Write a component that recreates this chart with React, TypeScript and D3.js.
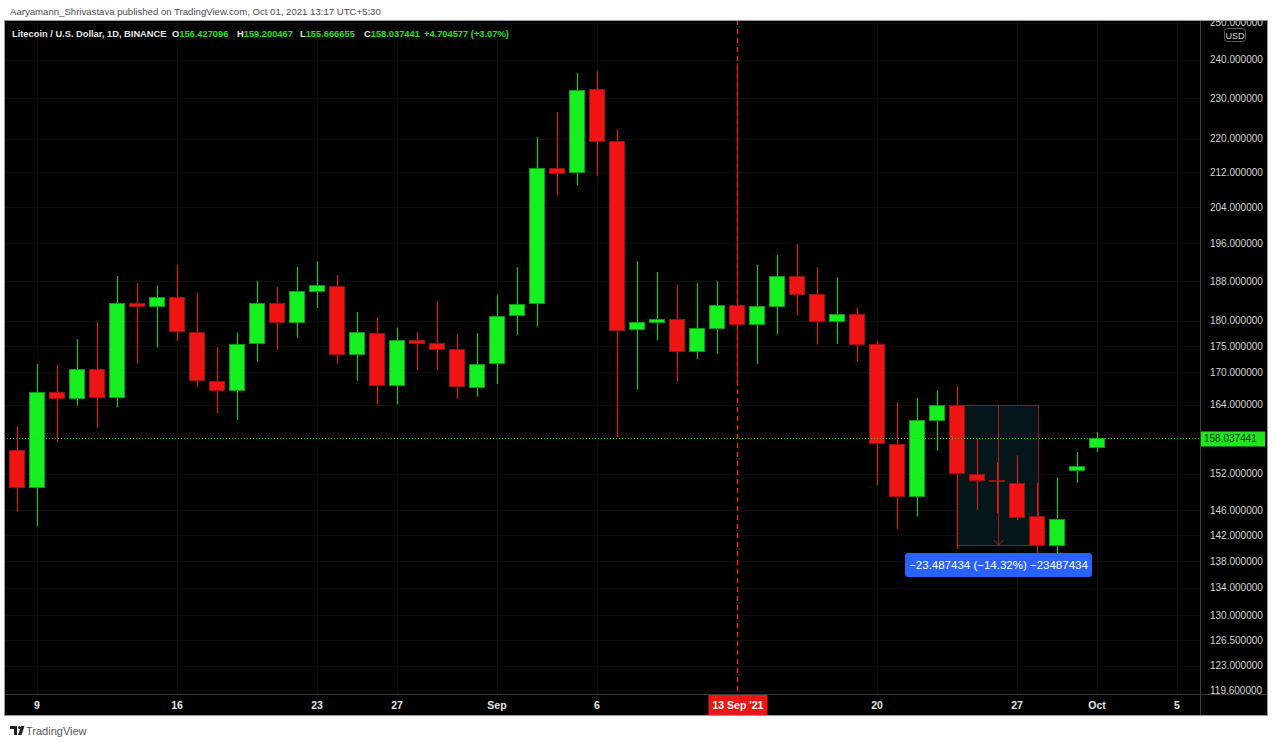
import React from "react";
import * as d3 from "d3";

// daily candles, LTC/USD (Binance)
const dates = [
  "2021-08-08", "2021-08-09", "2021-08-10", "2021-08-11", "2021-08-12", "2021-08-13", "2021-08-14",
  "2021-08-15", "2021-08-16", "2021-08-17", "2021-08-18", "2021-08-19", "2021-08-20", "2021-08-21",
  "2021-08-22", "2021-08-23", "2021-08-24", "2021-08-25", "2021-08-26", "2021-08-27", "2021-08-28",
  "2021-08-29", "2021-08-30", "2021-08-31", "2021-09-01", "2021-09-02", "2021-09-03", "2021-09-04",
  "2021-09-05", "2021-09-06", "2021-09-07", "2021-09-08", "2021-09-09", "2021-09-10", "2021-09-11",
  "2021-09-12", "2021-09-13", "2021-09-14", "2021-09-15", "2021-09-16", "2021-09-17", "2021-09-18",
  "2021-09-19", "2021-09-20", "2021-09-21", "2021-09-22", "2021-09-23", "2021-09-24", "2021-09-25",
  "2021-09-26", "2021-09-27", "2021-09-28", "2021-09-29", "2021-09-30", "2021-10-01",
];
const opens = [
  156.0, 149.6, 166.3, 165.1, 170.6, 165.3, 183.5, 182.8, 184.7, 177.8, 168.4, 166.5, 175.4, 183.5,
  179.6, 185.8, 186.9, 173.3, 177.6, 167.5, 176.2, 175.6, 174.4, 167.1, 171.5, 180.9, 183.3, 213.0,
  211.9, 232.3, 219.4, 178.2, 179.6, 180.3, 173.9, 178.4, 183.1, 179.1, 182.7, 189.1, 185.3, 179.7,
  181.3, 175.4, 157.1, 148.2, 161.2, 163.9, 152.0, 150.9, 150.5, 145.1, 140.3, 152.5, 156.427096,
];
const highs = [
  160.2, 171.6, 171.4, 176.3, 179.8, 189.1, 187.6, 187.1, 191.4, 185.6, 174.8, 177.6, 188.1, 186.8,
  191.0, 192.2, 189.3, 181.7, 180.6, 178.6, 177.7, 183.9, 177.3, 177.5, 185.1, 190.9, 220.4, 226.6,
  236.5, 237.1, 222.3, 192.2, 189.9, 187.2, 187.6, 188.0, 239.2, 191.4, 193.5, 195.9, 190.9, 188.8,
  182.6, 176.1, 164.5, 165.3, 166.6, 167.4, 157.9, 154.0, 155.1, 150.5, 151.4, 155.7, 159.200467,
];
const lows = [
  145.8, 143.5, 157.4, 163.9, 159.9, 163.6, 171.7, 174.7, 176.0, 167.3, 162.5, 161.3, 172.0, 174.3,
  176.6, 182.5, 171.6, 168.4, 164.1, 164.1, 170.5, 170.5, 165.1, 165.5, 167.8, 177.2, 178.8, 206.6,
  209.0, 211.1, 158.3, 166.8, 176.1, 168.3, 172.5, 173.5, 167.4, 171.6, 177.3, 181.1, 175.3, 175.4,
  172.0, 150.1, 143.0, 145.0, 155.9, 139.9, 146.05, 145.5, 144.4, 139.3, 139.0, 150.5, 155.666655,
];
const closes = [
  149.6, 166.3, 165.1, 170.6, 165.3, 183.5, 182.8, 184.7, 177.8, 168.3, 166.5, 175.4, 183.5, 179.6,
  185.9, 187.1, 173.3, 177.8, 167.5, 176.2, 175.4, 174.3, 167.2, 171.5, 180.9, 183.3, 213.0, 211.7,
  232.1, 219.3, 178.0, 179.7, 180.3, 173.9, 178.5, 183.1, 179.1, 182.9, 189.0, 185.1, 179.7, 181.3,
  175.3, 157.0, 148.2, 161.3, 163.9, 152.0, 150.8, 150.7, 144.8, 140.3, 144.6, 153.33, 158.037441,
];

const priceTicks = [250, 240, 230, 220, 212, 204, 196, 188, 180, 175, 170, 164, 152, 146, 142, 138, 134, 130, 126.5, 123, 119.6];
const timeTickDates = ["2021-08-09", "2021-08-16", "2021-08-23", "2021-08-27", "2021-09-01", "2021-09-06", "2021-09-20", "2021-09-27", "2021-10-01", "2021-10-05"];
const timeTickLabels = ["9", "16", "23", "27", "Sep", "6", "20", "27", "Oct", "5"];

const lastPrice = 158.037441;
const crosshairDate = "2021-09-13";
const crosshairLabel = "13 Sep '21";
const measureFrom = { date: "2021-09-24", price: 164.024875 };
const measureTo = { date: "2021-09-28", price: 140.537441 };
const measureText = "\u221223.487434 (\u221214.32%) \u221223487434";

const W = 1277;
const H = 742;
const panelL = 4, panelT = 20, panelR = 1268, panelB = 716;
const plotR = 1200, plotB = 694;

const UP = "#17f020";
const UP_EDGE = "#0f9a16";
const DOWN = "#ef1515";
const DOWN_EDGE = "#9c1010";

const parse = d3.utcParse("%Y-%m-%d");
const fmt = d3.format(".6f");
const font = "'Liberation Sans', Arial, sans-serif";

export default function App() {
  const x = d3.scaleUtc()
    .domain([parse("2021-08-09")!, parse("2021-10-05")!])
    .range([37, 1177]);
  const y = d3.scaleLog().domain([119.2, 250.8]).range([plotB, panelT]);

  const candles = dates.map((d, i) => ({
    cx: Math.round(x(parse(d)!)),
    o: opens[i], h: highs[i], l: lows[i], c: closes[i],
  }));

  const crossX = Math.round(x(parse(crosshairDate)!)) + 0.5;
  const mx0 = Math.round(x(parse(measureFrom.date)!));
  const mx1 = Math.round(x(parse(measureTo.date)!)) + 1;
  const my0 = Math.round(y(measureFrom.price));
  const my1 = Math.round(y(measureTo.price));
  const mMid = Math.round((mx0 + mx1) / 2) + 0.5;
  const lastY = Math.round(y(lastPrice)) + 0.5;
  const last = opens.length - 1;

  return (
    <div style={{ position: "fixed", left: 0, top: 0, width: W, height: H, background: "#fff" }}>
      <svg width={W} height={H} style={{ display: "block" }} fontFamily={font}>
        <defs>
          <clipPath id="plot"><rect x={panelL} y={panelT} width={plotR - panelL} height={plotB - panelT} /></clipPath>
          <clipPath id="paxis"><rect x={plotR} y={panelT} width={panelR - plotR} height={plotB - panelT} /></clipPath>
        </defs>

        <text x={10} y={14.5} fontSize={9.6} fill="#4c4c4c">
          Aaryamann_Shrivastava published on TradingView.com, Oct 01, 2021 13:17 UTC+5:30
        </text>

        <rect x={panelL} y={panelT} width={panelR - panelL} height={panelB - panelT} fill="#000" />

        {/* faint grid */}
        <g clipPath="url(#plot)" stroke="#0d0d0d" strokeWidth={1}>
          {priceTicks.map(t => (
            <line key={t} x1={panelL} x2={plotR} y1={Math.round(y(t)) + 0.5} y2={Math.round(y(t)) + 0.5} />
          ))}
          {timeTickDates.map(d => (
            <line key={d} x1={Math.round(x(parse(d)!)) + 0.5} x2={Math.round(x(parse(d)!)) + 0.5} y1={panelT} y2={plotB} />
          ))}
        </g>

        <g clipPath="url(#plot)">
          {/* measure box */}
          <rect x={mx0 + 0.5} y={my0 + 0.5} width={mx1 - mx0} height={my1 - my0} fill="#04161a" stroke="#8e1a1a" strokeWidth={1} />

          {/* crosshair */}
          <line x1={crossX} x2={crossX} y1={panelT} y2={plotB} stroke="#ff2424" strokeWidth={1.3} strokeDasharray="5,4" />

          {/* candles */}
          {candles.map((k, i) => {
            const up = k.c >= k.o;
            const top = Math.round(y(Math.max(k.o, k.c)));
            const bot = Math.max(top + 2, Math.round(y(Math.min(k.o, k.c))));
            return (
              <g key={i}>
                <line x1={k.cx + 0.5} x2={k.cx + 0.5} y1={y(k.h)} y2={y(k.l)} stroke={up ? "#14c91a" : "#e01818"} strokeWidth={1.2} />
                <rect x={k.cx - 8} y={top} width={16} height={bot - top} fill={up ? UP : DOWN} />
                <rect x={k.cx - 7.5} y={top + 0.5} width={15} height={Math.max(1, bot - top - 1)} fill="none" stroke={up ? UP_EDGE : DOWN_EDGE} strokeWidth={1} />
              </g>
            );
          })}

          {/* measure arrow */}
          <line x1={mMid} x2={mMid} y1={my0} y2={my1} stroke="#b01c1c" strokeWidth={1} />
          <path d={`M${mMid - 5},${my1 - 5} L${mMid},${my1} L${mMid + 5},${my1 - 5}`} fill="none" stroke="#b01c1c" strokeWidth={1} />

          {/* last price line */}
          <line x1={panelL} x2={plotR} y1={lastY} y2={lastY} stroke="#1ed81e" strokeWidth={1} strokeDasharray="1,2" />
        </g>

        {/* measure label */}
        <rect x={905} y={my1 + 8} width={187} height={24} rx={3} fill="#2962ff" />
        <text x={998.5} y={my1 + 24} fontSize={11.5} fill="#fff" textAnchor="middle">{measureText}</text>

        {/* axes separators */}
        <line x1={plotR + 0.5} x2={plotR + 0.5} y1={panelT} y2={panelB} stroke="#3d3d3d" />
        <line x1={panelL} x2={panelR} y1={plotB + 0.5} y2={plotB + 0.5} stroke="#3d3d3d" />

        {/* price axis */}
        <g clipPath="url(#paxis)">
          {priceTicks.map(t => (
            <text key={t} x={1210} y={y(t) + 3.5} fontSize={10} fill="#d6d6d6">{fmt(t)}</text>
          ))}
        </g>
        <rect x={1201} y={lastY - 7} width={64} height={15} fill="#1de61d" />
        <text x={1204} y={lastY + 3.5} fontSize={10} fill="#0c260c">{fmt(lastPrice)}</text>
        <rect x={1224.5} y={28.5} width={21} height={13} rx={3} fill="#000" stroke="#5a5a5a" />
        <text x={1235} y={38.5} fontSize={9} fill="#d6d6d6" textAnchor="middle">USD</text>

        {/* time axis */}
        {timeTickDates.map((d, i) => (
          <text key={d} x={x(parse(d)!)} y={709} fontSize={10.5} fontWeight={600} fill="#e6e6e6" textAnchor="middle">
            {timeTickLabels[i]}
          </text>
        ))}
        <rect x={crossX - 29} y={plotB + 1} width={59} height={panelB - plotB - 1} fill="#ee1515" />
        <text x={crossX + 0.5} y={709} fontSize={10.5} fontWeight={600} fill="#fff" textAnchor="middle">{crosshairLabel}</text>

        {/* legend */}
        <g fontSize={9.3} fontWeight={600}>
          <text x={12} y={36.5} fill="#e8e8e8">Litecoin / U.S. Dollar, 1D, BINANCE</text>
          <text x={172} y={36.5} fill="#e8e8e8">O<tspan fill="#22e022">{fmt(opens[last])}</tspan></text>
          <text x={237} y={36.5} fill="#e8e8e8">H<tspan fill="#22e022">{fmt(highs[last])}</tspan></text>
          <text x={300} y={36.5} fill="#e8e8e8">L<tspan fill="#22e022">{fmt(lows[last])}</tspan></text>
          <text x={364} y={36.5} fill="#e8e8e8">C<tspan fill="#22e022">{fmt(closes[last])}</tspan></text>
          <text x={424} y={36.5} fill="#22e022">+4.704577 (+3.07%)</text>
        </g>

        {/* panel border */}
        <rect x={panelL + 0.5} y={panelT + 0.5} width={panelR - panelL - 1} height={panelB - panelT - 1} fill="none" stroke="#9a9a9a" strokeWidth={1} />

        {/* footer logo */}
        <g fill="#222">
          <path d="M10,726 h7 v9 h-3 v-6 h-4 z" />
          <circle cx={19.5} cy={727.5} r={1.5} />
          <path d="M21,726 h3.5 l-3,9 h-3.5 z" />
        </g>
        <text x={26} y={735} fontSize={11} fill="#555">TradingView</text>
      </svg>
    </div>
  );
}
